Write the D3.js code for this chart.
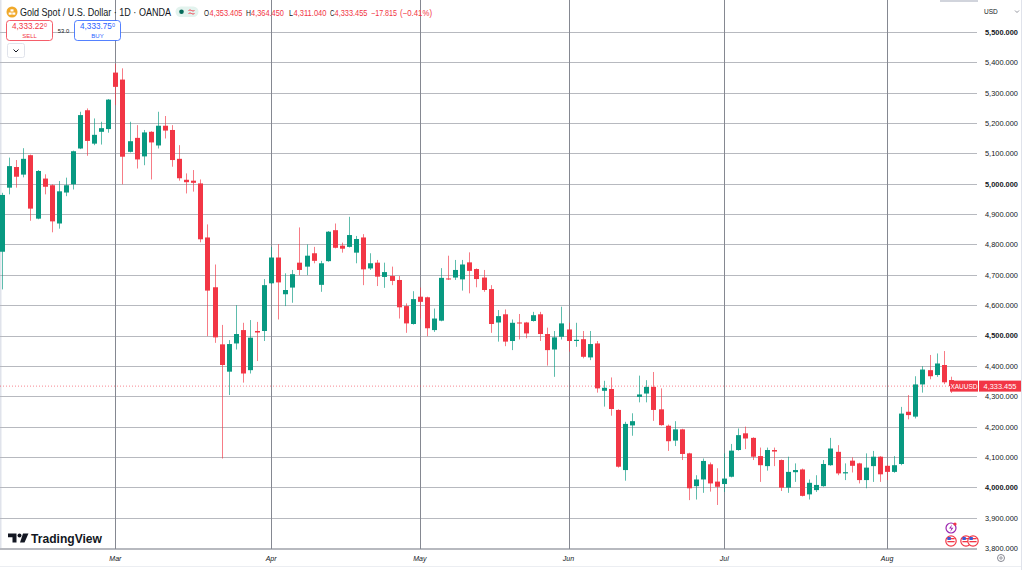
<!DOCTYPE html>
<html lang="en">
<head>
<meta charset="UTF-8" />
<title>Gold Spot / U.S. Dollar 1D</title>
<script src="https://cdn.jsdelivr.net/npm/d3@7"></script>
<style>
  body { margin: 0; background: #ffffff; }
  svg { display: block; font-family: "Liberation Sans", "DejaVu Sans", sans-serif; }
</style>
</head>
<body>
<svg id="chart" width="1024" height="570"></svg>
<script>
// trading days shown: Feb 6 .. Aug 14 (Good Friday closed)
const firstDay = new Date(2026, 1, 6);
const lastDay = new Date(2026, 7, 14);
const closedDays = ["2026-04-03"];

// daily OHLC
const opens = [4776,4987,5055,5030,5094,4885,5017,4995,4869,4971,4998,5116,5242,5132,5171,5180,5366,5343,5105,5151,
  5090,5171,5126,5191,5177,5082,5013,5010,5001,4823,4659,4471,4381,4474,4518,4386,4515,4515,4672,4757,
  4636,4658,4740,4727,4771,4667,4745,4847,4796,4792,4773,4823,4721,4740,4693,4696,4683,4597,4538,4628,
  4626,4518,4549,4688,4691,4685,4741,4719,4691,4653,4543,4570,4482,4543,4543,4548,4570,4505,4454,4496,
  4520,4482,4488,4428,4474,4318,4324,4255,4057,4204,4298,4309,4331,4257,4203,4154,4191,4112,4004,4026,
  4076,4019,4011,4035,4123,4178,4163,4103,4070,4123,4090,3999,4050,4059,3977,3991,4004,4073,4117,4046,
  4088,4079,4024,4070,4101,4071,4051,4077,4249,4233,4339,4386,4370,4403,4353.405];
const highs = [4970,5086,5078,5117,5096,5045,5031,4998,5009,5020,5109,5237,5248,5215,5204,5279,5395,5380,5204,5193,
  5177,5173,5237,5223,5193,5127,5034,5045,5014,4866,4734,4535,4485,4600,4542,4551,4545,4686,4792,4801,
  4705,4716,4856,4800,4792,4746,4844,4869,4806,4891,4828,4834,4771,4749,4740,4727,4696,4606,4646,4658,
  4628,4589,4722,4763,4749,4749,4774,4721,4716,4666,4584,4586,4553,4571,4545,4578,4578,4526,4515,4595,
  4542,4542,4515,4515,4482,4351,4362,4257,4216,4244,4368,4353,4380,4326,4207,4218,4193,4114,4040,4095,
  4082,4063,4112,4143,4194,4200,4165,4131,4131,4131,4092,4101,4079,4062,4026,4040,4090,4163,4139,4079,
  4099,4081,4112,4120,4103,4073,4103,4265,4304,4366,4399,4436,4441,4449,4364.45];
const lows = [4652,4965,4987,5021,4878,4883,4965,4840,4852,4959,4981,5114,5092,5127,5129,5168,5259,4998,5103,5050,
  5061,5014,5116,5149,5056,5010,4968,4974,4807,4498,4476,4095,4304,4454,4345,4375,4416,4482,4670,4553,
  4597,4608,4699,4699,4738,4644,4743,4787,4773,4790,4738,4666,4716,4663,4657,4666,4556,4509,4536,4556,
  4498,4512,4547,4683,4683,4648,4639,4659,4644,4509,4480,4465,4452,4487,4491,4546,4482,4401,4364,4487,
  4447,4463,4425,4419,4312,4266,4236,4065,4022,4170,4280,4280,4219,4203,4120,4136,4090,3958,3960,3982,
  3986,3942,3985,4033,4121,4126,4090,4018,4055,4070,3988,3982,4018,3970,3960,3985,4002,4071,4040,4024,
  4049,4013,3997,4018,4018,4024,4048,4073,4224,4227,4312,4356,4364,4340,4311.04];
const closes = [4963,5058,5023,5082,4918,5042,4990,4876,4975,4995,5107,5226,5141,5161,5183,5277,5319,5089,5140,5080,
  5169,5136,5191,5175,5078,5018,5005,5003,4817,4648,4494,4403,4472,4505,4375,4493,4510,4666,4757,4675,
  4650,4702,4716,4763,4746,4738,4842,4789,4786,4831,4818,4718,4738,4694,4709,4680,4593,4540,4620,4611,
  4524,4556,4690,4685,4716,4734,4713,4686,4650,4538,4564,4480,4542,4540,4507,4567,4505,4452,4494,4540,
  4482,4486,4430,4472,4326,4328,4258,4068,4209,4218,4306,4331,4255,4205,4152,4191,4110,3997,4026,4087,
  4013,4002,4029,4121,4172,4161,4101,4073,4123,4118,3999,4051,4057,3972,4015,4008,4077,4128,4046,4050,
  4071,4024,4065,4101,4043,4051,4073,4243,4238,4339,4388,4366,4408,4346,4333.455];

const priceTicks = d3.range(3800, 5501, 100);
const lastPrice = 4333.455;
const symbolName = "Gold Spot / U.S. Dollar · 1D · OANDA";
const changeAbs = "−17.815", changePct = "(−0.41%)";
const sellPrice = "4,333.22", buyPrice = "4,333.75", spreadText = "53.0";

const upColor = "#089981", downColor = "#f23645";

const fmtDay = d3.timeFormat("%Y-%m-%d");
const dates = d3.timeDay.range(firstDay, d3.timeDay.offset(lastDay, 1))
  .filter(d => d.getDay() !== 0 && d.getDay() !== 6 && !closedDays.includes(fmtDay(d)));

const bars = dates.map((d, i) => ({date: d, i: i, o: opens[i], h: highs[i], l: lows[i], c: closes[i]}));

const svg = d3.select("#chart");
const plotRight = 977, plotBottom = 549;

const x = d3.scaleLinear().domain([-0.3, 137.7]).range([0, plotRight]);
const y = d3.scaleLinear().domain([3800, 5500]).range([548.1, 31.9]);
const bodyW = 5;

// background + borders
svg.append("rect").attr("width", 1024).attr("height", 570).attr("fill", "#fff");
svg.append("rect").attr("x", 0).attr("y", 0).attr("width", 1.5).attr("height", plotBottom).attr("fill", "#e0e3eb");
svg.append("rect").attr("x", 940).attr("y", 0).attr("width", 38).attr("height", 2).attr("fill", "#d1d4dc");
svg.append("line").attr("x1", 1021.5).attr("x2", 1021.5).attr("y1", 0).attr("y2", 570).attr("stroke", "#e0e3eb");

// horizontal grid
svg.append("g").selectAll("line").data(priceTicks).join("line")
  .attr("x1", 0).attr("x2", plotRight)
  .attr("y1", d => Math.round(y(d)) + 0.5).attr("y2", d => Math.round(y(d)) + 0.5)
  .attr("stroke", "#b7b9bf").attr("stroke-width", 1);

// month starts
const monthStarts = bars.filter((b, i) => i > 0 && b.date.getMonth() !== bars[i - 1].date.getMonth());
svg.append("g").selectAll("line").data(monthStarts).join("line")
  .attr("x1", d => Math.round(x(d.i)) + 0.5).attr("x2", d => Math.round(x(d.i)) + 0.5)
  .attr("y1", 0).attr("y2", plotBottom)
  .attr("stroke", "#858891").attr("stroke-width", 1);

// time axis border
svg.append("line").attr("x1", 0).attr("x2", plotRight).attr("y1", plotBottom + 0.5).attr("y2", plotBottom + 0.5)
  .attr("stroke", "#b7b9bf");
svg.append("line").attr("x1", 0).attr("x2", 1021).attr("y1", 566.5).attr("y2", 566.5).attr("stroke", "#eceef2");

// last price dotted line
svg.append("line").attr("x1", 0).attr("x2", 950)
  .attr("y1", y(lastPrice)).attr("y2", y(lastPrice))
  .attr("stroke", downColor).attr("stroke-opacity", 0.6).attr("stroke-dasharray", "1,2");

// candles
const candles = svg.append("g").selectAll("g").data(bars).join("g");
candles.append("line")
  .attr("x1", d => Math.round(x(d.i)) + 0.5).attr("x2", d => Math.round(x(d.i)) + 0.5)
  .attr("y1", d => y(d.h)).attr("y2", d => y(d.l))
  .attr("stroke", d => d.c >= d.o ? upColor : downColor).attr("stroke-opacity", 0.65);
candles.append("rect")
  .attr("x", d => Math.round(x(d.i)) + 0.5 - bodyW / 2)
  .attr("width", bodyW)
  .attr("y", d => y(Math.max(d.o, d.c)))
  .attr("height", d => Math.max(1, Math.abs(y(d.o) - y(d.c))))
  .attr("fill", d => d.c >= d.o ? upColor : downColor);

// price axis
const axis = svg.append("g").attr("transform", `translate(${plotRight},0)`)
  .call(d3.axisRight(y).tickValues(priceTicks).tickSize(0).tickPadding(8)
    .tickFormat(d3.format(",.3f")));
axis.select(".domain").remove();
axis.selectAll("text")
  .attr("font-size", 7.4).attr("fill", "#131722")
  .attr("font-weight", d => d % 500 === 0 ? "bold" : "normal");

// currency selector
svg.append("text").attr("x", 984).attr("y", 14).attr("font-size", 6.5).attr("fill", "#131722").text("USD");
svg.append("path").attr("d", "M1015,10.5 l2,2 l2,-2").attr("fill", "none").attr("stroke", "#787b86").attr("stroke-width", 0.8);

// last price label
const lp = y(lastPrice);
svg.append("rect").attr("x", 950).attr("y", lp - 5.5).attr("width", 28).attr("height", 11).attr("fill", downColor);
svg.append("rect").attr("x", 979).attr("y", lp - 5.5).attr("width", 42).attr("height", 11).attr("fill", downColor);
svg.append("text").attr("x", 964).attr("y", lp + 2.5).attr("text-anchor", "middle").attr("font-size", 6.5)
  .attr("fill", "#fff").text("XAUUSD");
svg.append("text").attr("x", 1000).attr("y", lp + 2.5).attr("text-anchor", "middle").attr("font-size", 7.4)
  .attr("fill", "#fff").text(d3.format(",.3f")(lastPrice));

// month labels
svg.append("g").selectAll("text").data(monthStarts).join("text")
  .attr("x", d => x(d.i)).attr("y", 561).attr("text-anchor", "middle")
  .attr("font-size", 7).attr("font-style", "italic").attr("fill", "#131722")
  .text(d => d3.timeFormat("%b")(d.date));

// gear
svg.append("circle").attr("cx", 1001).attr("cy", 558).attr("r", 3.5).attr("fill", "none").attr("stroke", "#787b86").attr("stroke-width", 0.9);
svg.append("circle").attr("cx", 1001).attr("cy", 558).attr("r", 1.2).attr("fill", "none").attr("stroke", "#787b86").attr("stroke-width", 0.8);

// event icons
svg.append("circle").attr("cx", 951).attr("cy", 528).attr("r", 5).attr("fill", "#fff").attr("stroke", "#9c27b0").attr("stroke-width", 1.2);
svg.append("path").attr("d", "M952,524.5 l-3,4 h2.4 l-1.2,3.5 l3.2,-4.2 h-2.4 z").attr("fill", "#9c27b0");
svg.append("circle").attr("cx", 955).attr("cy", 524).attr("r", 1.6).attr("fill", "#f23645");
[951, 966, 973].forEach(cx => {
  svg.append("circle").attr("cx", cx).attr("cy", 541).attr("r", 5.2).attr("fill", "#fff").attr("stroke", "#f23645").attr("stroke-width", 1.2);
  svg.append("rect").attr("x", cx - 3.6).attr("y", 538).attr("width", 7.2).attr("height", 1.3).attr("fill", "#f23645");
  svg.append("rect").attr("x", cx - 3.6).attr("y", 541).attr("width", 7.2).attr("height", 1.3).attr("fill", "#f23645");
  svg.append("rect").attr("x", cx - 3.6).attr("y", 537).attr("width", 3.4).attr("height", 3).attr("fill", "#3c5bd6");
});

// TradingView logo
svg.append("path").attr("d", "M8,533.5 h8.5 v9 h-4 v-5.2 h-4.5 z").attr("fill", "#131722");
svg.append("circle").attr("cx", 19.5).attr("cy", 535.5).attr("r", 2).attr("fill", "#131722");
svg.append("path").attr("d", "M23,533.5 h5.5 l-4,9 h-4.5 z").attr("fill", "#131722");
svg.append("text").attr("x", 31).attr("y", 542.5).attr("font-size", 12.5).attr("font-weight", "bold")
  .attr("fill", "#131722").attr("textLength", 71).attr("lengthAdjust", "spacingAndGlyphs").text("TradingView");

// header
svg.append("circle").attr("cx", 12).attr("cy", 12).attr("r", 5.5).attr("fill", "#f0a92b");
[[10.2, 13.6], [13.8, 13.6], [12, 10.4]].forEach(p =>
  svg.append("rect").attr("x", p[0] - 1.5).attr("y", p[1] - 1.1).attr("width", 3).attr("height", 2.2).attr("fill", "#fff"));
svg.append("text").attr("x", 20).attr("y", 15.8).attr("font-size", 10.2).attr("fill", "#131722")
  .attr("textLength", 151).attr("lengthAdjust", "spacingAndGlyphs").text(symbolName);
svg.append("rect").attr("x", 175.5).attr("y", 6.5).attr("width", 23).attr("height", 10.5).attr("rx", 5.2).attr("fill", "#e3f3ee");
svg.append("circle").attr("cx", 181.5).attr("cy", 11.8).attr("r", 2.3).attr("fill", "#066b5a");
svg.append("path").attr("d", "M188.5,10.5 q1.5,-1.2 3,0 t3,0 M188.5,13.5 q1.5,-1.2 3,0 t3,0")
  .attr("fill", "none").attr("stroke", "#f23645").attr("stroke-width", 0.9);

// OHLC legend: letter + value pieces laid out left to right
const fmtP = d3.format(",.3f");
const last = bars[bars.length - 1];
const legendParts = [
  {t: "O", c: "#131722", x: 204, w: 5}, {t: fmtP(last.o), c: downColor, x: 209.5, w: 33},
  {t: "H", c: "#131722", x: 246, w: 5}, {t: fmtP(last.h), c: downColor, x: 251, w: 33},
  {t: "L", c: "#131722", x: 289, w: 4}, {t: fmtP(last.l), c: downColor, x: 293.5, w: 33},
  {t: "C", c: "#131722", x: 330, w: 4.5}, {t: fmtP(last.c), c: downColor, x: 334.5, w: 33},
  {t: changeAbs, c: downColor, x: 371, w: 26}, {t: changePct, c: downColor, x: 400, w: 32}
];
svg.append("g").selectAll("text").data(legendParts).join("text")
  .attr("x", d => d.x).attr("y", 15.5).attr("font-size", 8.6).attr("fill", d => d.c)
  .attr("textLength", d => d.w).attr("lengthAdjust", "spacingAndGlyphs").text(d => d.t);

// sell / buy boxes
function tradeBox(bx, color, price, label) {
  svg.append("rect").attr("x", bx + 0.5).attr("y", 20.5).attr("width", 46).attr("height", 20).attr("rx", 3)
    .attr("fill", "#fff").attr("stroke", color).attr("stroke-opacity", 0.8);
  const t = svg.append("text").attr("x", bx + 23.5).attr("y", 29).attr("text-anchor", "middle")
    .attr("font-size", 8.2).attr("fill", color);
  t.append("tspan").text(price);
  t.append("tspan").attr("font-size", 5.5).attr("dy", -2.5).text("0");
  svg.append("text").attr("x", bx + 23.5).attr("y", 37.5).attr("text-anchor", "middle")
    .attr("font-size", 6).attr("fill", color).text(label);
}
tradeBox(6, "#f23645", sellPrice, "SELL");
tradeBox(74, "#2962ff", buyPrice, "BUY");
svg.append("text").attr("x", 63.5).attr("y", 32.5).attr("text-anchor", "middle").attr("font-size", 5.8)
  .attr("fill", "#131722").text(spreadText);
svg.append("rect").attr("x", 7.5).attr("y", 43.5).attr("width", 17).attr("height", 14).attr("rx", 2)
  .attr("fill", "#fff").attr("stroke", "#e0e3eb");
svg.append("path").attr("d", "M13.5,49.5 l2.5,2.5 l2.5,-2.5").attr("fill", "none").attr("stroke", "#131722").attr("stroke-width", 1);
</script>
</body>
</html>
